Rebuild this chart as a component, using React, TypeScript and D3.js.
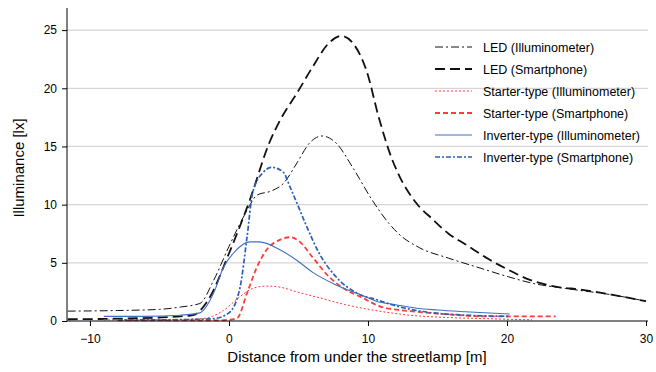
import { useEffect, useRef } from 'react';
import * as d3 from 'd3';

// distance [m] / illuminance [lx] for each series
const ledIllumX = [-11.6, -8, -5, -3.5, -2.1, -1.1, 0, 1.3, 2, 3.1, 3.9, 4.9, 5.8, 6.7, 7.7, 8.9, 10.3, 11.5, 12.2, 13.7, 15.8, 18.2, 20.1, 22, 24.2, 27.8, 30];
const ledIllumY = [0.85, 0.9, 1.0, 1.2, 1.5, 3.5, 6.4, 9.5, 10.8, 11.2, 11.8, 13.6, 15.3, 15.9, 15.3, 13.2, 10.4, 8.4, 7.5, 6.3, 5.4, 4.5, 3.8, 3.2, 2.8, 2.2, 1.7];
const ledSmartX = [-11.6, -8, -5, -3.5, -2.6, -1.5, 0, 1.5, 2.9, 3.7, 4.9, 6, 7.2, 8.1, 8.9, 9.9, 10.8, 11.7, 12.2, 13.5, 14.6, 15.8, 17, 18.7, 20.1, 21.5, 23.5, 25.3, 27.8, 30];
const ledSmartY = [0.15, 0.2, 0.3, 0.4, 0.5, 1.8, 5.8, 10.4, 15.3, 17.3, 19.6, 21.8, 23.9, 24.5, 23.9, 21.5, 17.4, 14.0, 12.6, 10.1, 8.8, 7.5, 6.6, 5.3, 4.4, 3.6, 2.95, 2.7, 2.2, 1.7];
const starterIllumX = [-9, -5, -2, -1.2, -0.4, 0.8, 1.7, 2.7, 3.7, 4.9, 6.5, 8.4, 10.8, 13, 15.8, 18.5, 21.8];
const starterIllumY = [0.1, 0.1, 0.2, 0.4, 0.9, 2.1, 2.8, 3.0, 2.9, 2.5, 2.0, 1.4, 0.85, 0.5, 0.3, 0.2, 0.1];
const starterSmartX = [-8, -4, -1, 0, 0.6, 1.3, 2, 2.7, 3.7, 4.4, 5.1, 6, 7.2, 8.4, 9.6, 11, 13.5, 16, 18.2, 21, 23.5];
const starterSmartY = [0.05, 0.05, 0.05, 0.1, 0.25, 2.4, 4.6, 6.1, 7.0, 7.2, 6.8, 5.5, 3.8, 2.7, 2.0, 1.2, 0.8, 0.55, 0.4, 0.4, 0.4];
const inverterIllumX = [-9, -6, -3.5, -2.1, -1.1, -0.4, 0.3, 1.5, 2.2, 3.7, 4.9, 6, 7.7, 9.6, 10.6, 12, 13.5, 15, 17, 20.2];
const inverterIllumY = [0.4, 0.4, 0.5, 0.7, 2.4, 4.6, 5.8, 6.8, 6.8, 6.1, 5.2, 4.2, 3.1, 2.2, 1.7, 1.4, 1.1, 0.95, 0.8, 0.6];
const inverterSmartX = [-8, -5, -2, -1.1, 0, 0.8, 1.3, 1.7, 2.4, 3.1, 3.9, 4.4, 4.9, 5.6, 6.5, 7.7, 9.2, 10.7, 12, 13.5, 17, 20.2];
const inverterSmartY = [0.1, 0.1, 0.15, 0.2, 0.7, 2.9, 7.2, 11, 12.7, 13.2, 12.8, 11.5, 10.1, 8.1, 5.8, 3.8, 2.4, 1.8, 1.3, 0.9, 0.5, 0.4];

const seriesNames = [
  'LED (Illuminometer)',
  'LED (Smartphone)',
  'Starter-type (Illuminometer)',
  'Starter-type (Smartphone)',
  'Inverter-type (Illuminometer)',
  'Inverter-type (Smartphone)',
];
const xTicks = [-10, 0, 10, 20, 30];
const yTicks = [0, 5, 10, 15, 20, 25];

const App = () => {
  const ref = useRef<SVGSVGElement>(null);

  useEffect(() => {
    if (!ref.current) return;
    const svg = d3.select(ref.current);
    svg.selectAll('*').remove();

    const width = 656;
    const height = 372;
    const font = '"Liberation Sans", Arial, Helvetica, sans-serif';

    const x = d3.scaleLinear().domain([-11.65, 30]).range([67, 646]);
    const y = d3.scaleLinear().domain([0, 26.9]).range([321, 8]);

    svg.attr('width', width).attr('height', height).style('font-family', font);

    // gridlines
    svg.append('g')
      .selectAll('line')
      .data(yTicks.filter(d => d > 0))
      .enter()
      .append('line')
      .attr('x1', 67)
      .attr('x2', 648)
      .attr('y1', d => y(d))
      .attr('y2', d => y(d))
      .attr('stroke', '#d9d3d3')
      .attr('stroke-width', 1.3);

    const series = [
      { xs: ledIllumX, ys: ledIllumY, color: '#111', w: 1, dash: '8,3,2,3' },
      { xs: ledSmartX, ys: ledSmartY, color: '#111', w: 1.8, dash: '10,5' },
      { xs: starterIllumX, ys: starterIllumY, color: '#ff3b3b', w: 1, dash: '2,2' },
      { xs: starterSmartX, ys: starterSmartY, color: '#ff3b3b', w: 1.8, dash: '5,3' },
      { xs: inverterIllumX, ys: inverterIllumY, color: '#3f70c0', w: 1.1, dash: null },
      { xs: inverterSmartX, ys: inverterSmartY, color: '#2b5fb3', w: 1.7, dash: '5,2,2,2' },
    ];

    const line = d3.line<[number, number]>()
      .x(d => x(d[0]))
      .y(d => y(d[1]))
      .curve(d3.curveMonotoneX);

    const plot = svg.append('g');
    series.forEach(s => {
      const pts = s.xs.map((v, i) => [v, s.ys[i]] as [number, number]);
      plot.append('path')
        .attr('d', line(pts))
        .attr('fill', 'none')
        .attr('stroke', s.color)
        .attr('stroke-width', s.w)
        .attr('stroke-dasharray', s.dash);
    });

    // axes
    const xAxis = svg.append('g')
      .attr('transform', 'translate(0,321)')
      .call(d3.axisBottom(x).tickValues(xTicks).tickSize(5).tickSizeOuter(0).tickFormat(d3.format('d')));
    xAxis.select('.domain').attr('d', 'M67,0H648').attr('stroke', '#000');
    xAxis.selectAll('text').attr('dy', '1.2em').style('font-size', '12px').style('font-family', font);

    const yAxis = svg.append('g')
      .attr('transform', 'translate(67,0)')
      .call(d3.axisLeft(y).tickValues(yTicks).tickSize(5).tickSizeOuter(0));
    yAxis.select('.domain').attr('d', 'M0,8V321').attr('stroke', '#000');
    yAxis.selectAll('text').attr('x', -10).style('font-size', '12px').style('font-family', font);

    svg.append('text')
      .attr('x', 357)
      .attr('y', 362)
      .attr('text-anchor', 'middle')
      .style('font-size', '15px')
      .text('Distance from under the streetlamp [m]');

    svg.append('text')
      .attr('transform', 'translate(24,168) rotate(-90)')
      .attr('text-anchor', 'middle')
      .style('font-size', '15px')
      .text('Illuminance [lx]');

    // legend
    const legend = svg.selectAll('.legend')
      .data(series)
      .enter()
      .append('g')
      .attr('class', 'legend')
      .attr('transform', (d, i) => `translate(435, ${47 + i * 22})`);
    legend.append('line')
      .attr('x1', 0)
      .attr('x2', 37)
      .attr('stroke', d => d.color)
      .attr('stroke-width', d => d.w)
      .attr('stroke-dasharray', d => d.dash);
    legend.append('text')
      .attr('x', 48)
      .attr('y', 4.5)
      .style('font-size', '12.5px')
      .text((d, i) => seriesNames[i]);
  }, []);

  return <svg ref={ref} style={{ display: 'block', position: 'absolute', left: 0, top: 0 }} />;
};

export default App;
